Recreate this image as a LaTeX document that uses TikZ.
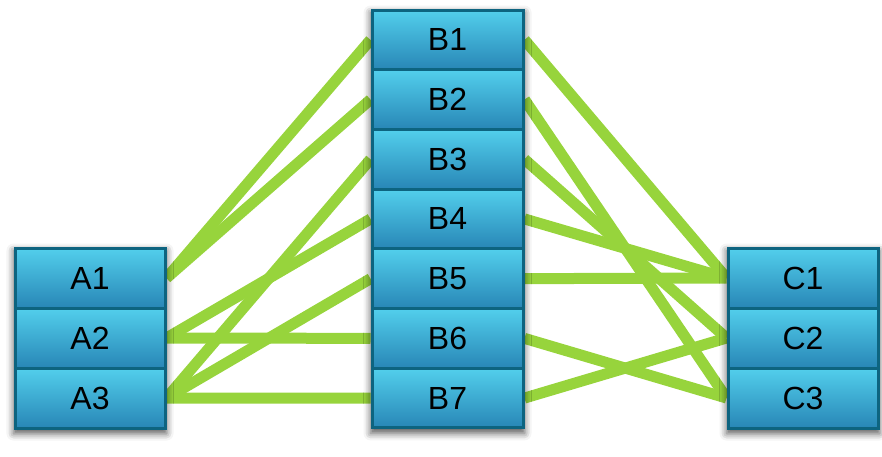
\documentclass[tikz,border=0pt]{standalone}
\usepackage{fontspec}
\setmainfont{Liberation Sans}
\usetikzlibrary{shadows.blur}
\definecolor{lnk}{HTML}{97D43C}
\definecolor{celltop}{HTML}{52CFEC}
\definecolor{cellbot}{HTML}{2886B6}
\definecolor{celledge}{HTML}{0D6480}
\pgfdeclarelayer{links}
\pgfdeclarelayer{shade}
\pgfsetlayers{links,shade,main}
\begin{document}
\begin{tikzpicture}[x=1pt,y=-1pt,
  cell/.style={rectangle, draw=celledge, line width=3pt, top color=celltop, bottom color=cellbot,
    minimum width=150pt, minimum height=60pt, inner sep=0pt, font=\fontsize{32}{36}\selectfont, text=black},
  bcell/.style={cell, minimum width=151pt, minimum height=59.7pt},
  link/.style={draw=lnk, line width=11pt},
  colshadow/.style={fill=white, draw=none, blur shadow={shadow xshift=0pt, shadow yshift=-4pt, shadow blur radius=7pt, shadow opacity=65}}]
\useasboundingbox (0,0) rectangle (882,456);
% column A
\node[cell] (A1) at (90,278) {A1};
\node[cell] (A2) at (90,338) {A2};
\node[cell] (A3) at (90,398) {A3};
% column B
\node[bcell] (B1) at (447.5,39.85) {B1};
\node[bcell] (B2) at (447.5,99.55) {B2};
\node[bcell] (B3) at (447.5,159.25) {B3};
\node[bcell] (B4) at (447.5,218.95) {B4};
\node[bcell] (B5) at (447.5,278.65) {B5};
\node[bcell] (B6) at (447.5,338.35) {B6};
\node[bcell] (B7) at (447.5,398.05) {B7};
% column C
\node[cell] (C1) at (803,278) {C1};
\node[cell] (C2) at (803,338) {C2};
\node[cell] (C3) at (803,398) {C3};
\begin{pgfonlayer}{shade}
  \path[colshadow] (A1.north west) rectangle (A3.south east);
  \path[colshadow] (B1.north west) rectangle (B7.south east);
  \path[colshadow] (C1.north west) rectangle (C3.south east);
\end{pgfonlayer}
\begin{pgfonlayer}{links}
  \draw[link] (A1.east) -- (B1.west);
  \draw[link] (A1.east) -- (B2.west);
  \draw[link] (A2.east) -- (B4.west);
  \draw[link] (A2.east) -- (B6.west);
  \draw[link] (A3.east) -- (B3.west);
  \draw[link] (A3.east) -- (B5.west);
  \draw[link] (A3.east) -- (B7.west);
  \draw[link] (B1.east) -- (C1.west);
  \draw[link] (B2.east) -- (C3.west);
  \draw[link] (B3.east) -- (C2.west);
  \draw[link] (B4.east) -- (C1.west);
  \draw[link] (B5.east) -- (C1.west);
  \draw[link] (B6.east) -- (C3.west);
  \draw[link] (B7.east) -- (C2.west);
\end{pgfonlayer}
\end{tikzpicture}
\end{document}
